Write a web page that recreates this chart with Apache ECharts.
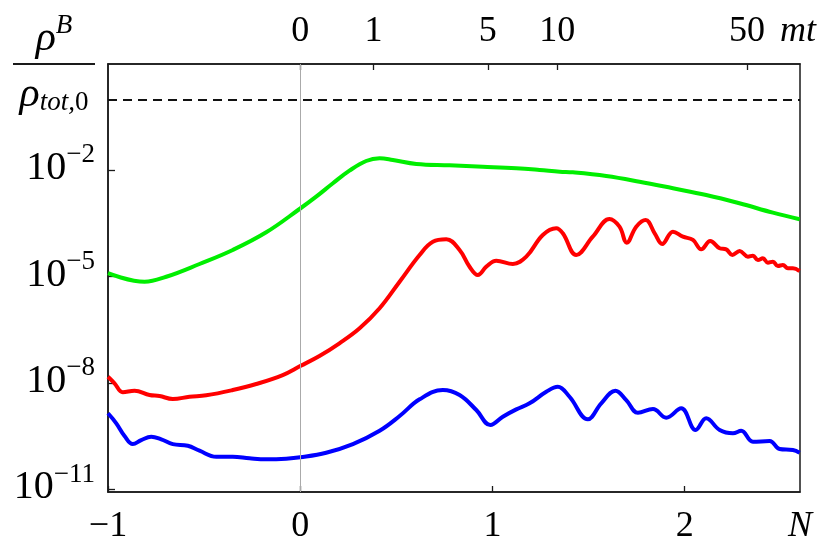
<!DOCTYPE html>
<html>
<head>
<meta charset="utf-8">
<script src="https://cdn.jsdelivr.net/npm/echarts@6/dist/echarts.min.js"></script>
<style>
  html, body { margin: 0; padding: 0; background: #fff; }
  #chart { width: 830px; height: 558px; }
</style>
</head>
<body>
<div id="chart"></div>
<script>
// ---- data ----
const greenN = [-1.0, -0.81, -0.697, -0.524, -0.351, -0.177, 0, 0.083, 0.17, 0.256, 0.343, 0.413, 0.482, 0.604, 0.777, 0.95, 1.124, 1.245, 1.35, 1.418, 1.592, 1.765, 1.939, 2.112, 2.285, 2.459, 2.598];
const greenVal = [1.26e-5, 7.24e-6, 1.0e-5, 2.29e-5, 5.69e-5, 1.79e-4, 8.41e-4, 1.81e-3, 4.33e-3, 9.8e-3, 1.84e-2, 2.19e-2, 1.96e-2, 1.52e-2, 1.39e-2, 1.27e-2, 1.15e-2, 1.03e-2, 9.18e-3, 8.83e-3, 6.95e-3, 4.8e-3, 3.13e-3, 2.02e-3, 1.18e-3, 6.41e-4, 4.18e-4];

const redN = [-1.0, -0.966, -0.923, -0.862, -0.784, -0.732, -0.663, -0.576, -0.489, -0.351, -0.229, -0.091, 0, 0.1, 0.204, 0.309, 0.413, 0.517, 0.621, 0.69, 0.76, 0.829, 0.881, 0.924, 0.968, 1.02, 1.106, 1.176, 1.262, 1.332, 1.366, 1.436, 1.522, 1.609, 1.661, 1.699, 1.748, 1.797, 1.844, 1.883, 1.939, 1.991, 2.043, 2.086, 2.133, 2.182, 2.216, 2.248, 2.286, 2.329, 2.355, 2.381, 2.407, 2.433, 2.459, 2.485, 2.511, 2.537, 2.563, 2.598];
const redVal = [1.51e-8, 9.86e-9, 5.5e-9, 6.11e-9, 4.61e-9, 4.33e-9, 3.56e-9, 4.13e-9, 4.53e-9, 6.38e-9, 9.44e-9, 1.69e-8, 3.03e-8, 5.81e-8, 1.33e-7, 3.52e-7, 1.29e-6, 7.24e-6, 4.11e-5, 9.75e-5, 1.14e-4, 5.69e-5, 1.92e-5, 1.12e-5, 1.92e-5, 2.84e-5, 2.29e-5, 3.68e-5, 1.51e-4, 2.33e-4, 1.68e-4, 4.11e-5, 1.35e-4, 4.26e-4, 2.58e-4, 9.14e-5, 2.58e-4, 3.99e-4, 1.68e-4, 8.39e-5, 1.87e-4, 1.35e-4, 1.09e-4, 5.94e-5, 1.02e-4, 6.35e-5, 5.94e-5, 4.11e-5, 5.32e-5, 3.68e-5, 3.93e-5, 2.96e-5, 3.31e-5, 2.49e-5, 2.66e-5, 2.01e-5, 2.14e-5, 1.73e-5, 1.73e-5, 1.45e-5];

const blueN = [-1.0, -0.957, -0.914, -0.871, -0.827, -0.775, -0.723, -0.663, -0.585, -0.524, -0.437, -0.351, -0.264, -0.177, -0.073, 0, 0.135, 0.274, 0.413, 0.517, 0.621, 0.742, 0.829, 0.916, 0.989, 1.054, 1.124, 1.193, 1.28, 1.34, 1.401, 1.496, 1.566, 1.64, 1.696, 1.757, 1.835, 1.904, 1.982, 2.057, 2.112, 2.182, 2.251, 2.294, 2.355, 2.442, 2.494, 2.563, 2.598];
const blueVal = [1.41e-9, 7.35e-10, 3.22e-10, 1.91e-10, 2.48e-10, 3.08e-10, 2.6e-10, 1.91e-10, 1.71e-10, 1.24e-10, 8.39e-11, 8.39e-11, 7.57e-11, 7.08e-11, 7.36e-11, 8.07e-11, 1.09e-10, 1.91e-10, 4.54e-10, 1.18e-9, 3.49e-9, 6.38e-9, 4.61e-9, 1.74e-9, 6.58e-10, 1.13e-9, 1.82e-9, 2.69e-9, 5.71e-9, 7.91e-9, 4.13e-9, 9.53e-10, 2.69e-9, 6.11e-9, 3.33e-9, 1.46e-9, 1.86e-9, 1.06e-9, 1.95e-9, 4.75e-10, 1.02e-9, 4.75e-10, 3.84e-10, 4.54e-10, 2.22e-10, 2.33e-10, 1.38e-10, 1.3e-10, 1.09e-10];

// axis ticks / labels
const bottomTicks = [-1, 0, 1, 2];
const bottomLabelValues = [-1, 0, 1, 2, 2.6];
const topTickN = [0, 0.381, 0.976, 1.337, 2.324];
const topLabelN = [0, 0.381, 0.976, 1.337, 2.324, 2.59];
const topLabels = ['0', '1', '5', '10', '50', 'mt'];
const yTicks = [1e-11, 1e-8, 1e-5, 1e-2];
const refLineY = 1;
const refLineX = 0;

const FONT = 'Liberation Serif';
const INK = '#1a1a1a';

function pairs(xs, ys) { return xs.map((x, i) => [x, ys[i]]); }

const chart = echarts.init(document.getElementById('chart'), null, { renderer: 'canvas' });

const lineCommon = {
  type: 'line', showSymbol: false, smooth: 0.4, animation: false,
  xAxisIndex: 0, yAxisIndex: 0, clip: true
};

chart.setOption({
  animation: false,
  backgroundColor: '#fff',
  grid: { left: 108, right: 30, top: 64, bottom: 66, show: true, borderColor: INK, borderWidth: 1.5, backgroundColor: 'transparent' },
  xAxis: [
    {
      type: 'value', position: 'bottom', min: -1, max: 2.6,
      axisLine: { show: true, onZero: false, lineStyle: { color: INK, width: 1.5 } },
      axisTick: { show: true, inside: true, length: 6, customValues: bottomTicks, lineStyle: { color: INK, width: 1.3 } },
      splitLine: { show: false },
      axisLabel: {
        customValues: bottomLabelValues, margin: 17, color: '#000', fontFamily: FONT, fontSize: 36,
        formatter: v => v === 2.6 ? '{i|N}' : (v < 0 ? '\u2212' + Math.abs(v) : String(v)),
        rich: { i: { fontFamily: FONT, fontStyle: 'italic', fontSize: 36, color: '#000' } }
      }
    },
    {
      type: 'value', position: 'top', min: -1, max: 2.6,
      axisLine: { show: true, onZero: false, lineStyle: { color: INK, width: 1.5 } },
      axisTick: { show: true, inside: true, length: 6, customValues: topTickN, lineStyle: { color: INK, width: 1.3 } },
      splitLine: { show: false },
      axisLabel: {
        customValues: topLabelN, margin: 14, color: '#000', fontFamily: FONT, fontSize: 36,
        formatter: v => {
          const i = topLabelN.indexOf(v);
          const t = i >= 0 ? topLabels[i] : '';
          return t === 'mt' ? '{i|mt}' : t;
        },
        rich: { i: { fontFamily: FONT, fontStyle: 'italic', fontSize: 36, color: '#000' } }
      }
    }
  ],
  yAxis: {
    type: 'log', logBase: 10, min: 8.5e-12, max: 10,
    axisLine: { show: true, onZero: false, lineStyle: { color: INK, width: 1.5 } },
    axisTick: { show: true, inside: true, length: 7, customValues: yTicks, lineStyle: { color: INK, width: 1.3 } },
    minorTick: { show: false },
    splitLine: { show: false },
    axisLabel: {
      customValues: yTicks, margin: 13, color: '#000', padding: [0, 0, 10, 0],
      formatter: v => {
        const e = Math.round(Math.log10(v));
        return '{b|10}{s|\u2212' + Math.abs(e) + '}';
      },
      rich: {
        b: { fontFamily: FONT, fontSize: 40, lineHeight: 47, color: '#000', verticalAlign: 'bottom' },
        s: { fontFamily: FONT, fontSize: 27, color: '#000', verticalAlign: 'top' }
      }
    }
  },
  graphic: [
    {
      type: 'text', x: 54, y: 64, z: 10,
      style: {
        text: '{n|\u03C1}{sup|B}\n{hr| }\n{n|\u03C1}{sub|tot,}{sub0|0}',
        align: 'center',
        verticalAlign: 'middle',
        rich: {
          n: { fontFamily: FONT, fontStyle: 'italic', fontSize: 42, lineHeight: 48, fill: '#000', verticalAlign: 'bottom', align: 'center' },
          sup: { fontFamily: FONT, fontStyle: 'italic', fontSize: 27, fill: '#000', verticalAlign: 'top', align: 'center' },
          hr: { width: 82, height: 2, lineHeight: 8, backgroundColor: INK, fontSize: 1, align: 'center' },
          sub: { fontFamily: FONT, fontStyle: 'italic', fontSize: 27, fill: '#000', verticalAlign: 'bottom', align: 'center' },
          sub0: { fontFamily: FONT, fontSize: 27, fill: '#000', verticalAlign: 'bottom', align: 'center' }
        }
      }
    }
  ],
  series: [
    {
      type: 'line', data: [], xAxisIndex: 0, yAxisIndex: 0, z: 1, animation: false,
      markLine: {
        silent: true, symbol: 'none', animation: false, label: { show: false },
        data: [
          { xAxis: refLineX, lineStyle: { color: '#aaaaaa', width: 1, type: 'solid' } },
          { yAxis: refLineY, lineStyle: { color: '#111', width: 2, type: [9, 6] } }
        ]
      }
    },
    Object.assign({}, lineCommon, { name: 'green', z: 3, data: pairs(greenN, greenVal), lineStyle: { color: '#00ee00', width: 4 }, itemStyle: { color: '#00ee00' } }),
    Object.assign({}, lineCommon, { name: 'red', z: 3, data: pairs(redN, redVal), lineStyle: { color: '#ff0000', width: 4 }, itemStyle: { color: '#ff0000' } }),
    Object.assign({}, lineCommon, { name: 'blue', z: 3, data: pairs(blueN, blueVal), lineStyle: { color: '#0000ff', width: 4 }, itemStyle: { color: '#0000ff' } })
  ]
});
</script>
</body>
</html>
